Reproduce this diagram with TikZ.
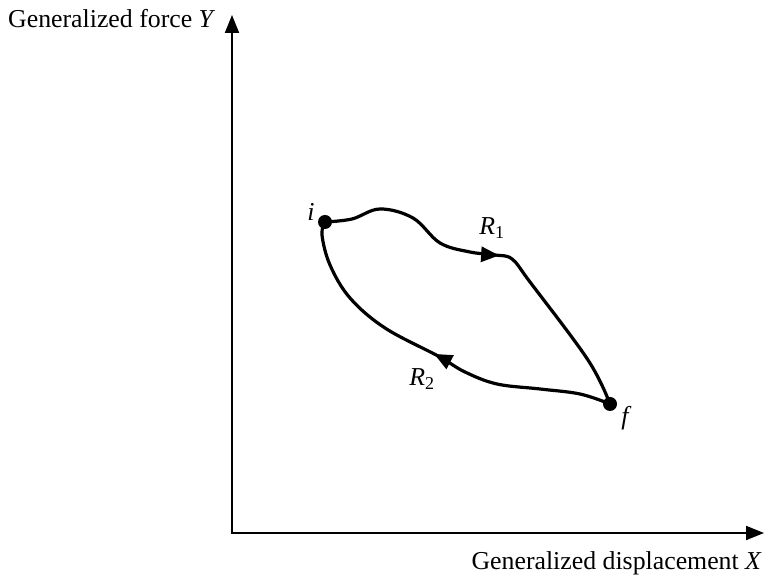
\documentclass[tikz,border=0pt]{standalone}
\usepackage{fontspec}
\setmainfont{Liberation Serif}
\usetikzlibrary{arrows.meta,decorations.markings}
\begin{document}
\begin{tikzpicture}[x=1pt,y=1pt,
  axis/.style={line width=2pt,{Triangle[length=18pt,width=14pt]}-{Triangle[length=18pt,width=14pt]}},
  curve/.style={line width=3.2pt,line join=round},
  dot/.style={circle,fill,inner sep=0pt,minimum size=14pt},
  lbl/.style={font=\fontsize{25.8}{30}\selectfont},
  midarrow/.style={postaction={decorate},decoration={markings,mark=at position #1 with {\arrow{Triangle[length=18pt,width=15pt]}}}}
]
\useasboundingbox (0,0) rectangle (764,577);
\coordinate (O) at (232,44);
\coordinate (Ytip) at (232,562);
\coordinate (Xtip) at (764,44);
\draw[axis] (Ytip) -- (O) -- (Xtip);
\node[lbl,anchor=base west,inner sep=0pt] (ylab) at (8,549) {Generalized force \textit{Y}};
\node[lbl,anchor=base east,inner sep=0pt] (xlab) at (762,7) {Generalized displacement \textit{X}};
\node[dot] (i) at (325,355) {};
\node[dot] (f) at (610,173) {};
\draw[curve,midarrow=0.5] plot[smooth,tension=0.6] coordinates {(i.center) (352,358) (380,368) (413,359) (440,334) (470,325) (495,322) (512,318) (530,295) (588,217) (f.center)};
\draw[curve,midarrow=0.5] plot[smooth,tension=0.6] coordinates {(f.center) (580,183) (540,188) (497,193) (465,205) (438,221) (385,249) (350,279) (330,312) (322,342) (i.center)};
\node[lbl,font=\fontsize{25.8}{30}\selectfont\itshape] (il) at (311,365) {i};
\node[lbl,font=\fontsize{25.8}{30}\selectfont\itshape] (fl) at (625,159) {f};
\node[lbl] (r1) at (492,349) {\textit{R}\textsubscript{1}};
\node[lbl] (r2) at (422,198) {\textit{R}\textsubscript{2}};
\end{tikzpicture}
\end{document}
